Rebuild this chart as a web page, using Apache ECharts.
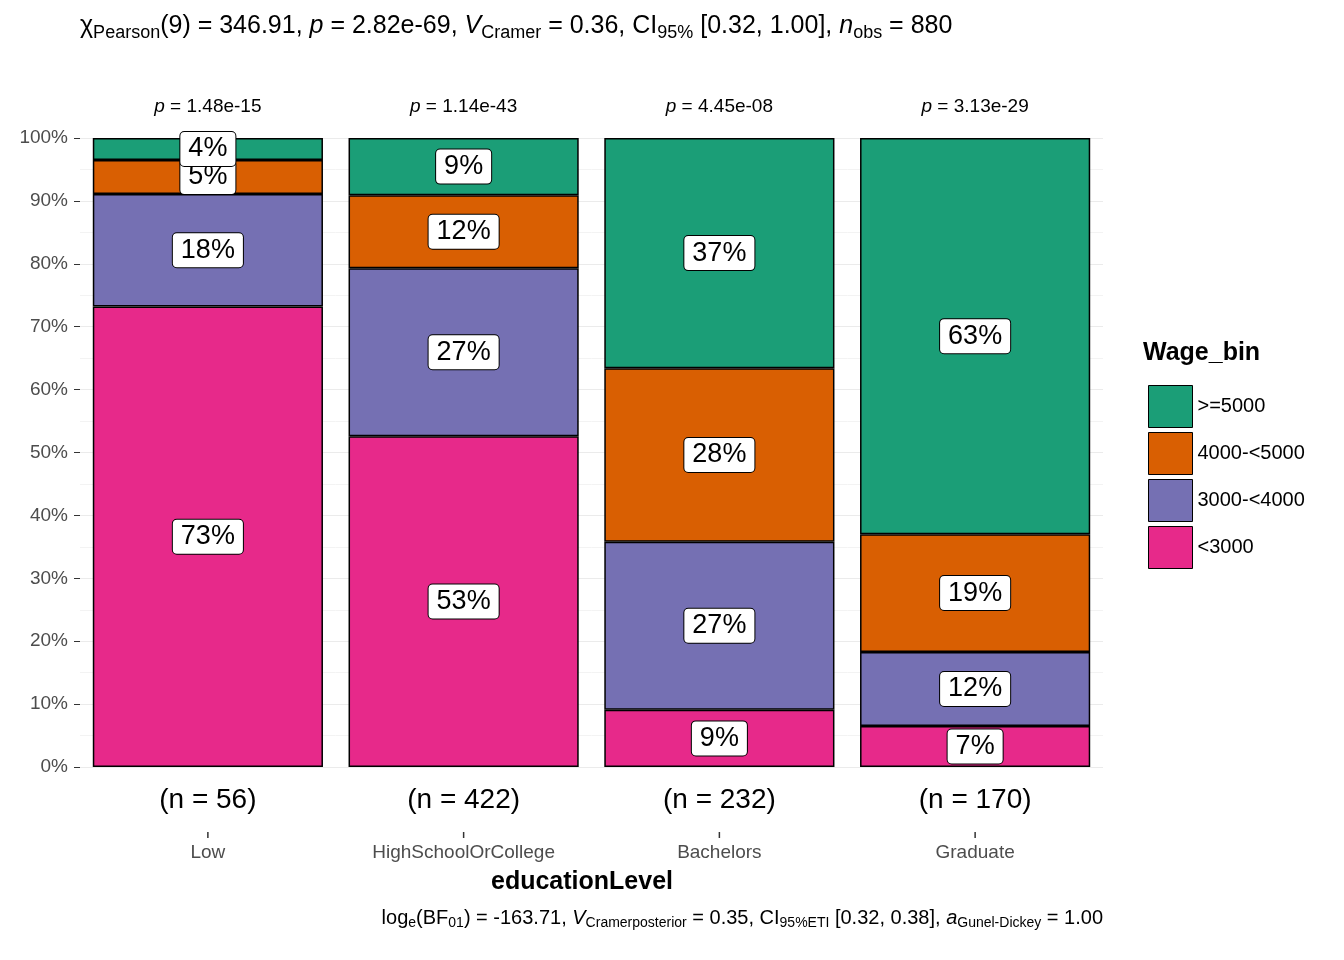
<!DOCTYPE html>
<html>
<head>
<meta charset="utf-8">
<script src="https://cdn.jsdelivr.net/npm/echarts@6/dist/echarts.min.js"></script>
</head>
<body style="margin:0">
<div id="main" style="width:1344px;height:960px;"></div>
<script>
var categories = ['Low', 'HighSchoolOrCollege', 'Bachelors', 'Graduate'];
var counts = [56, 422, 232, 170];
var pvals = ['1.48e-15', '1.14e-43', '4.45e-08', '3.13e-29'];
var bin3000 = [73.2, 52.6, 9.1, 6.5];
var bin4000 = [17.9, 26.7, 26.7, 11.8];
var bin5000 = [5.4, 11.6, 27.6, 18.7];
var binTop = [3.5, 9.1, 36.6, 63.0];
var yTicks = [0, 10, 20, 30, 40, 50, 60, 70, 80, 90, 100];

var font = 'Arial, Liberation Sans, sans-serif';
function mk(name, data, color) {
    return {
        name: name, type: 'bar', stack: 'a', data: data, barCategoryGap: '10%',
        itemStyle: {color: color, borderColor: '#000', borderWidth: 1.5},
        label: {
            show: true, position: 'inside', fontSize: 27, color: '#000', fontFamily: font,
            backgroundColor: '#fff', borderColor: '#000', borderWidth: 1, borderRadius: 4,
            padding: [5, 8, 2, 8],
            formatter: function (p) { return Math.round(p.value) + '%'; }
        }
    };
}
var chart = echarts.init(document.getElementById('main'));
var option = {
    animation: false,
    textStyle: {fontFamily: font},
    grid: {left: 80, right: 241, top: 138, bottom: 193},
    legend: {
        data: ['>=5000', '4000-<5000', '3000-<4000', '<3000'],
        orient: 'vertical', left: 1143, top: 380, itemWidth: 44, itemHeight: 42, itemGap: 4,
        icon: 'rect', textStyle: {fontSize: 20, color: '#000'},
        itemStyle: {borderColor: '#000', borderWidth: 1}
    },
    xAxis: {
        type: 'category', data: categories,
        axisLine: {show: false}, axisTick: {show: false},
        axisLabel: {show: false}
    },
    yAxis: {
        type: 'value', min: 0, max: 100, interval: 10,
        axisLine: {show: false},
        axisTick: {show: true, length: 6, lineStyle: {color: '#333'}},
        axisLabel: {fontSize: 19, color: '#4d4d4d', formatter: '{value}%', margin: 12},
        splitLine: {lineStyle: {color: '#ebebeb', width: 1.2}},
        minorTick: {show: false, splitNumber: 2},
        minorSplitLine: {show: true, lineStyle: {color: '#f3f3f3'}}
    },
    series: [
        mk('<3000', bin3000, '#E7298A'),
        mk('3000-<4000', bin4000, '#7570B3'),
        mk('4000-<5000', bin5000, '#D95F02'),
        mk('>=5000', binTop, '#1B9E77')
    ],
    graphic: []
};
chart.setOption(option);

var g = [];
g.push({type: 'text', left: 80, top: 14, style: {
    rich: {
        m: {fontSize: 25, fontFamily: font, color: '#000'},
        s: {fontSize: 18, fontFamily: font, color: '#000', verticalAlign: 'bottom', padding: [14, 0, 0, 0]},
        i: {fontSize: 25, fontFamily: font, fontStyle: 'italic', color: '#000'}
    },
    text: '{m|χ}{s|Pearson}{m|(9) = 346.91, }{i|p}{m| = 2.82e-69, }{i|V}{s|Cramer}{m| = 0.36, CI}{s|95%}{m| [0.32, 1.00], }{i|n}{s|obs}{m| = 880}'
}});
g.push({type: 'text', right: 241, top: 908, style: {
    rich: {
        m: {fontSize: 20, fontFamily: font, color: '#000'},
        s: {fontSize: 14, fontFamily: font, color: '#000', padding: [10, 0, 0, 0]},
        i: {fontSize: 20, fontFamily: font, fontStyle: 'italic', color: '#000'}
    },
    text: '{m|log}{s|e}{m|(BF}{s|01}{m|) = -163.71, }{i|V}{s|Cramer}{s|posterior}{m| = 0.35, CI}{s|95%}{s|ETI}{m| [0.32, 0.38], }{i|a}{s|Gunel-Dickey}{m| = 1.00}'
}});
g.push({type: 'text', left: 491, top: 870, style: {text: 'educationLevel', fontSize: 25, fontWeight: 'bold', fontFamily: font, fill: '#000'}});
g.push({type: 'text', left: 1143, top: 341, style: {text: 'Wage_bin', fontSize: 25, fontWeight: 'bold', fontFamily: font, fill: '#000'}});
categories.forEach(function (c, i) {
    var x = chart.convertToPixel({xAxisIndex: 0}, c);
    g.push({type: 'text', x: x, y: 107, style: {
        rich: {i: {fontSize: 19, fontStyle: 'italic', fontFamily: font, fill: '#000'}, m: {fontSize: 19, fontFamily: font, fill: '#000'}},
        text: '{i|p}{m| = ' + pvals[i] + '}', align: 'center', verticalAlign: 'middle'}});
    g.push({type: 'text', x: x, y: 800, style: {text: '(n = ' + counts[i] + ')', fontSize: 28, fontFamily: font, fill: '#000', align: 'center', verticalAlign: 'middle'}});
    g.push({type: 'line', shape: {x1: x, y1: 832, x2: x, y2: 838}, style: {stroke: '#333', lineWidth: 1.5}});
    g.push({type: 'text', x: x, y: 853, style: {text: c, fontSize: 19, fontFamily: font, fill: '#4d4d4d', align: 'center', verticalAlign: 'middle'}});
});
chart.setOption({graphic: g});
</script>
</body>
</html>
